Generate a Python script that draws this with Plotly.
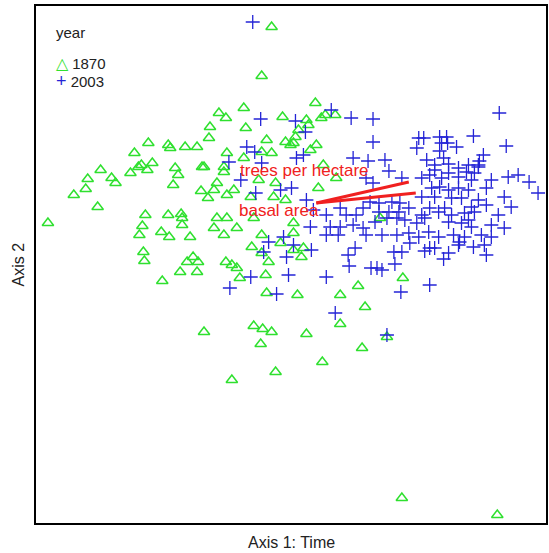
import plotly.graph_objects as go

# Ordination scores (Axis 1 = time gradient, Axis 2 = secondary axis)
plots_1870_axis1 = [
    273, 263, 149, 169, 171, 186, 198, 135, 153, 142, 139, 176, 203, 101,
    148, 131, 112, 116, 88, 86, 74, 98, 48, 179, 174, 202, 146, 143, 140,
    169, 182, 183, 183, 162, 170, 191,
    317, 245, 220, 227, 284, 211, 247, 210, 308, 310, 323, 327, 337, 300,
    297, 268, 287, 292, 295, 318, 312, 263, 273, 228, 245, 325, 205, 225,
    225, 218, 215, 209, 235, 228, 260, 277, 252, 275, 287, 320, 338, 218,
    228, 215, 255, 238, 295, 263, 295, 225,
    144, 145, 188, 194, 199, 181, 198, 163,
    253, 282, 263, 295, 305, 303, 270, 227, 233, 238, 241, 267, 268, 299,
    342, 360, 367, 405,
    205, 255, 264, 273, 262, 308, 342, 389, 364, 324, 277, 233,
    404, 500, 382,
]
plots_1870_axis2 = [
    27, 76, 143, 145, 148, 147, 147, 153, 163, 165, 167, 168, 167, 170,
    170, 173, 178, 183, 179, 189, 195, 207, 223, 175, 185, 191, 215, 226, 235,
    215, 214, 218, 225, 232, 237, 237,
    103, 108, 113, 118, 117, 127, 128, 138, 120, 125, 118, 115, 115, 130,
    137, 140, 142, 145, 143, 145, 150, 152, 153, 153, 158, 165, 167, 167,
    172, 183, 190, 198, 190, 195, 180, 183, 197, 197, 200, 188, 178, 218,
    218, 228, 218, 228, 223, 235, 233, 235,
    252, 261, 262, 257, 262, 272, 272, 281,
    247, 243, 253, 250, 248, 257, 262, 262, 265, 268, 278, 275, 293, 295,
    295, 286, 307, 278,
    332, 326, 329, 332, 344, 334, 324, 337, 348, 362, 372, 380,
    498, 515, 218,
]

plots_2003_axis1 = [
    254,
    333, 262, 297, 353, 375, 307, 375, 248, 256, 305, 298, 230, 263, 355, 370,
    502, 421, 426, 419, 442, 449, 444, 450, 459, 442, 476, 509, 387, 429,
    446, 486, 482, 437, 451, 461, 471, 481,
    242, 282, 293, 257, 308, 315, 328, 342, 348, 358, 365, 372, 368, 375,
    332, 342, 312, 355, 365, 328, 340, 368, 285,
    391, 404, 424, 432, 437, 444, 451, 461, 469, 477, 474, 481, 494, 511,
    521, 532, 541, 489, 434, 442, 451, 461, 471, 424, 437, 454, 464, 507,
    514, 481, 489, 474, 381, 394, 402, 381, 391, 401, 411, 424, 432, 441,
    447, 454, 467, 477, 501, 377, 389, 399, 407, 419, 427, 451, 464, 474,
    471, 494, 507, 384, 399, 411, 421, 431, 441, 456, 467, 484, 494,
    270, 295, 265, 288, 313, 357, 350, 351, 373, 252, 290, 328, 231, 278, 337,
    412, 396, 404, 427, 432, 437, 451, 446, 461, 462, 476, 487, 489, 397,
    379, 384, 403, 432, 389,
]
plots_2003_axis2 = [
    22,
    110, 119, 121, 118, 119, 132, 142, 147, 152, 155, 158, 162, 163, 158, 161,
    113, 138, 138, 148, 137, 137, 143, 143, 147, 151, 136, 146, 160, 160,
    158, 155, 161, 165, 164, 168, 165, 165,
    180, 190, 188, 193, 200, 210, 215, 208, 215, 215, 208, 202, 178, 183,
    227, 227, 227, 225, 228, 235, 235, 235, 237,
    171, 178, 178, 175, 170, 178, 173, 177, 172, 173, 180, 167, 180, 177,
    175, 182, 193, 188, 188, 187, 190, 188, 190, 197, 197, 198, 198, 197,
    207, 200, 205, 207, 203, 202, 203, 212, 212, 212, 208, 215, 208, 212,
    208, 215, 213, 212, 215, 222, 218, 218, 220, 223, 218, 222, 223, 227,
    220, 225, 228, 235, 235, 233, 237, 232, 237, 235, 237, 235, 237,
    242, 245, 252, 257, 250, 248, 255, 266, 268, 277, 275, 277, 288, 294, 313,
    243, 252, 252, 251, 248, 248, 253, 259, 245, 242, 247, 245, 255, 264,
    268, 270, 292, 285, 335,
]

# Biplot vectors for the overlay variables
vector_names = ["trees per hectare", "basal area"]
vector_origin = [318, 203]
vector_tip_axis1 = [411, 418]
vector_tip_axis2 = [182, 193]
label_axis1 = [306, 280]
label_axis2 = [170, 210]

GREEN = "#2fe02f"
BLUE = "#2424d6"
RED = "#f02020"
FONT = "Liberation Sans, Arial, sans-serif"

fig = go.Figure()

fig.add_trace(go.Scatter(
    x=plots_1870_axis1, y=plots_1870_axis2, mode="markers", name="1870",
    showlegend=False,
    marker=dict(symbol="triangle-up-open", size=10, color=GREEN,
                line=dict(width=1.5, color=GREEN)),
))
fig.add_trace(go.Scatter(
    x=plots_2003_axis1, y=plots_2003_axis2, mode="markers", name="2003",
    showlegend=False,
    marker=dict(symbol="cross-thin-open", size=10, color=BLUE,
                line=dict(width=1.3, color=BLUE)),
))

for name, tx, ty, lx, ly in zip(vector_names, vector_tip_axis1, vector_tip_axis2,
                                label_axis1, label_axis2):
    fig.add_trace(go.Scatter(
        x=[vector_origin[0], tx], y=[vector_origin[1], ty], mode="lines",
        line=dict(color=RED, width=3), showlegend=False, hoverinfo="skip",
    ))
    fig.add_annotation(x=lx, y=ly, text=name, showarrow=False,
                       font=dict(family=FONT, size=17, color=RED))

# Key in the upper-left corner
legend_rows = [
    ("year", 0.948),
    (f'<span style="color:{GREEN};font-size:16px">△</span> 1870', 0.888),
    (f'<span style="color:{BLUE};font-size:18px">+</span> 2003', 0.855),
]
for text, ypos in legend_rows:
    fig.add_annotation(text=text, xref="paper", yref="paper", x=0.037, y=ypos,
                       xanchor="left", yanchor="middle", showarrow=False,
                       borderpad=0,
                       font=dict(family=FONT, size=15, color="#222"))

fig.update_layout(
    width=549, height=553,
    margin=dict(l=36, r=1, t=6, b=30),
    paper_bgcolor="white", plot_bgcolor="white",
    font=dict(family=FONT, color="#222"),
    showlegend=False,
    xaxis=dict(range=[36, 549], showticklabels=False, ticks="", showgrid=False,
               zeroline=False, showline=True, linecolor="black", linewidth=2,
               mirror=True),
    yaxis=dict(range=[523, 6], showticklabels=False, ticks="", showgrid=False,
               zeroline=False, showline=True, linecolor="black", linewidth=2,
               mirror=True),
)

fig.add_annotation(text="Axis 1: Time", xref="paper", yref="paper", x=0.5, y=0,
                   yshift=-19, yanchor="middle", showarrow=False, borderpad=0,
                   font=dict(family=FONT, size=16, color="#222"))
fig.add_annotation(text="Axis 2", xref="paper", yref="paper", x=0, y=0.5,
                   xshift=-18, xanchor="center", textangle=-90, showarrow=False,
                   font=dict(family=FONT, size=16, color="#222"))

fig.write_html("out.html")
